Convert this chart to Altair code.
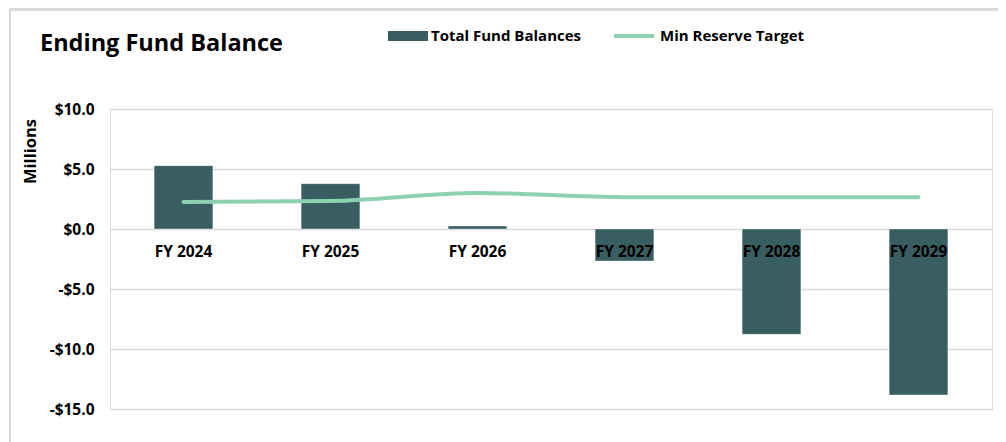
import altair as alt
import pandas as pd

years = ["FY 2024", "FY 2025", "FY 2026", "FY 2027", "FY 2028", "FY 2029"]
balances = [5.28, 3.78, 0.25, -2.67, -8.78, -13.83]
reserve = [2.25, 2.33, 3.0, 2.65, 2.65, 2.65]
y_ticks = [10, 5, 0, -5, -10, -15]

df = pd.DataFrame({
    "year": years,
    "balance": balances,
    "reserve": reserve,
    "s1": ["Total Fund Balances"] * len(years),
    "s2": ["Min Reserve Target"] * len(years),
})

FONT = "Open Sans"
BAR = "#395E62"
LINE = "#8DD0B2"
GRID = "#D9D9D9"

x_enc = alt.X(
    "year:N",
    sort=years,
    scale=alt.Scale(paddingInner=0.6, paddingOuter=0.3),
    axis=alt.Axis(
        title=None, labelAngle=0, ticks=False, domain=False, grid=False,
        offset=-180, labelPadding=15, labelFontSize=15.5, labelFontWeight="bold",
        labelColor="#000000", labelFont=FONT, zindex=2,
    ),
)

y_scale = alt.Scale(domain=[-15, 10], nice=False, zero=False)

bars = alt.Chart(df).mark_bar(stroke="#FFFFFF", strokeWidth=0.8, strokeOpacity=0.5).encode(
    x=x_enc,
    y=alt.Y(
        "balance:Q",
        scale=y_scale,
        axis=alt.Axis(
            values=y_ticks, title="Millions", ticks=False, domain=False,
            gridColor=GRID, gridWidth=1.5,
            labelExpr="datum.value < 0 ? '-$' + format(-datum.value, '.1f') : '$' + format(datum.value, '.1f')",
            labelFontSize=15.5, labelFontWeight="bold", labelColor="#000000", labelFont=FONT,
            labelPadding=16,
            titleFont=FONT, titleFontSize=16.5, titleFontWeight="bold", titleColor="#000000",
            titleAngle=-90, titleX=-80, titleY=42, titleAlign="center", titleBaseline="middle",
        ),
    ),
    fill=alt.Fill(
        "s1:N",
        scale=alt.Scale(domain=["Total Fund Balances"], range=[BAR]),
        legend=alt.Legend(
            title=None, orient="none", legendX=288, legendY=-83,
            symbolType="M-2,-0.5H2V0.5H-2Z", symbolSize=400, symbolStrokeWidth=0,
            labelFont=FONT, labelFontSize=15, labelFontWeight="bold", labelColor="#000000",
            labelOffset=13,
        ),
    ),
)

line = alt.Chart(df).mark_line(strokeWidth=4, interpolate="monotone", strokeCap="round").encode(
    x=alt.X("year:N", sort=years),
    y=alt.Y("reserve:Q", scale=y_scale),
    stroke=alt.Stroke(
        "s2:N",
        scale=alt.Scale(domain=["Min Reserve Target"], range=[LINE]),
        legend=alt.Legend(
            title=None, orient="none", legendX=512, legendY=-85,
            symbolType="M-2,0H2", symbolSize=400, symbolStrokeWidth=4,
            labelFont=FONT, labelFontSize=15, labelFontWeight="bold", labelColor="#000000",
            labelOffset=14,
        ),
    ),
)

frame = alt.Chart(df).mark_rule(color=GRID, strokeWidth=2).encode(
    x=alt.value(-100), x2=alt.value(1000), y=alt.value(-99.5)
) + alt.Chart(df).mark_rule(color=GRID, strokeWidth=2).encode(
    x=alt.value(-100), y=alt.value(-99.5), y2=alt.value(340)
)

chart = alt.layer(frame, bars, line).resolve_scale(fill="independent", stroke="independent").properties(
    width=882,
    height=300,
    autosize=alt.AutoSizeParams(type="none"),
    padding={"left": 102, "top": 101, "right": 6, "bottom": 33},
    title=alt.TitleParams(
        "Ending Fund Balance", anchor="start", frame="group", font=FONT, fontSize=23.5,
        fontWeight="bold", color="#000000", dx=-70, offset=0, dy=66, baseline="alphabetic",
    ),
).configure_view(stroke=None).configure(background="#FFFFFF")

chart.save("out.html", embed_options={"renderer": "svg", "actions": False})
